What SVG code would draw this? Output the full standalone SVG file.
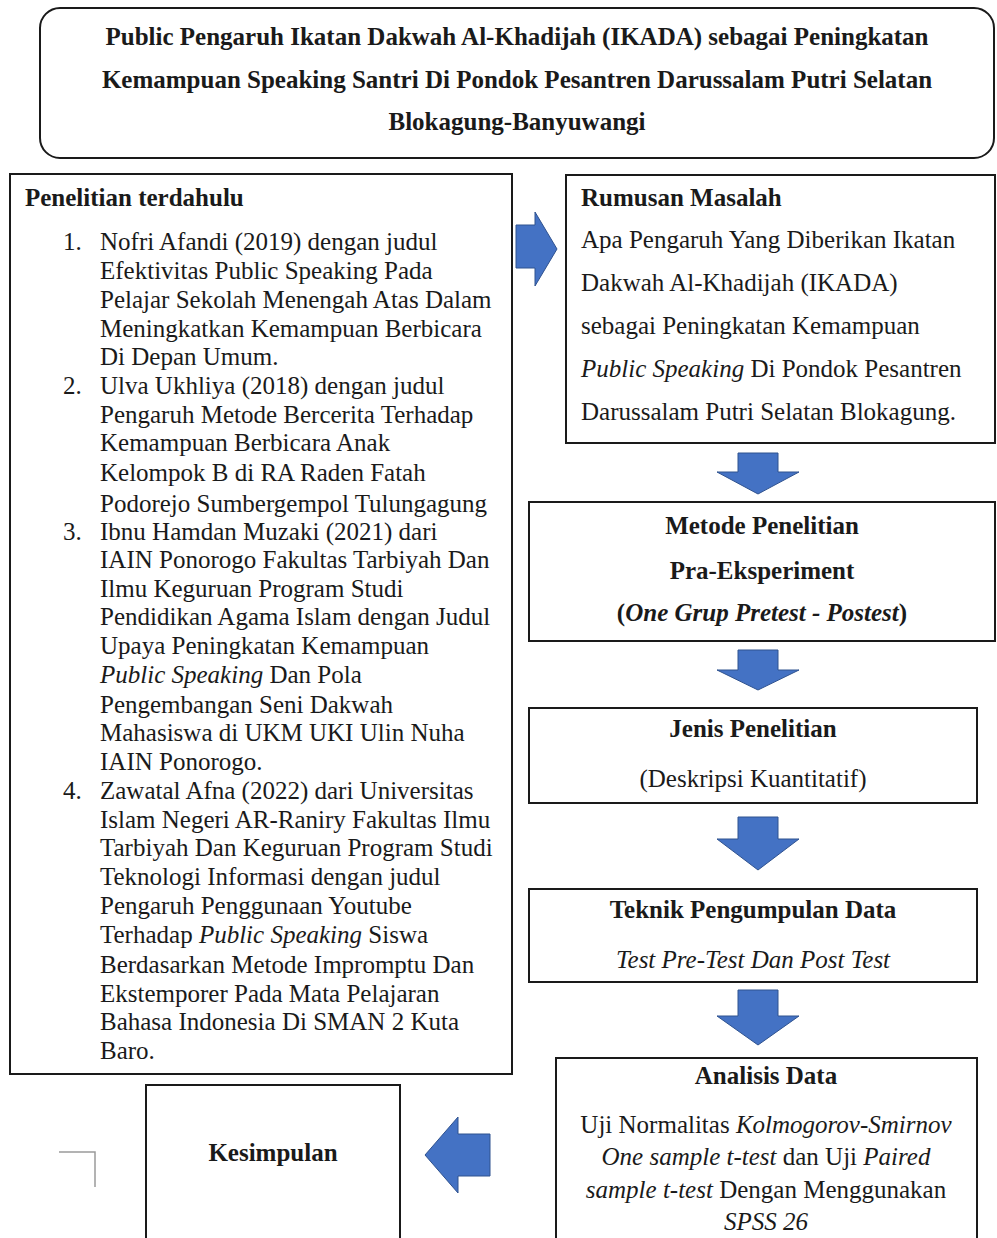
<svg xmlns="http://www.w3.org/2000/svg" width="997" height="1238" viewBox="0 0 997 1238">
<style>
  .box { fill: #ffffff; stroke: #1a1a1a; stroke-width: 2; }
  .t { font-family: "Liberation Serif", "Times New Roman", serif; font-size: 25px; fill: #1a1a1a; }
  .b { font-weight: bold; }
  .c { text-anchor: middle; }
  .i { font-style: italic; }
  .arrow { fill: #4472C4; stroke: #2F528F; stroke-width: 1; }
</style>
<rect x="0" y="0" width="997" height="1238" fill="#ffffff"/>

<g id="title">
  <rect class="box" x="40" y="8" width="954" height="150" rx="20" ry="20"/>
  <text class="t b c" x="517" y="45">Public Pengaruh Ikatan Dakwah Al-Khadijah (IKADA) sebagai Peningkatan</text>
  <text class="t b c" x="517" y="88">Kemampuan Speaking Santri Di Pondok Pesantren Darussalam Putri Selatan</text>
  <text class="t b c" x="517" y="130">Blokagung-Banyuwangi</text>
</g>

<g id="penelitian-terdahulu">
  <rect class="box" x="10" y="174" width="502" height="900"/>
  <text class="t b" x="25" y="206">Penelitian terdahulu</text>
  <text class="t" x="63" y="250">1.</text>
  <text class="t" x="100" y="250">Nofri Afandi (2019) dengan judul</text>
  <text class="t" x="100" y="279">Efektivitas Public Speaking Pada</text>
  <text class="t" x="100" y="308">Pelajar Sekolah Menengah Atas Dalam</text>
  <text class="t" x="100" y="337">Meningkatkan Kemampuan Berbicara</text>
  <text class="t" x="100" y="365">Di Depan Umum.</text>
  <text class="t" x="63" y="394">2.</text>
  <text class="t" x="100" y="394">Ulva Ukhliya (2018) dengan judul</text>
  <text class="t" x="100" y="423">Pengaruh Metode Bercerita Terhadap</text>
  <text class="t" x="100" y="451">Kemampuan Berbicara Anak</text>
  <text class="t" x="100" y="481">Kelompok B di RA Raden Fatah</text>
  <text class="t" x="100" y="512">Podorejo Sumbergempol Tulungagung</text>
  <text class="t" x="63" y="540">3.</text>
  <text class="t" x="100" y="540">Ibnu Hamdan Muzaki (2021) dari</text>
  <text class="t" x="100" y="568">IAIN Ponorogo Fakultas Tarbiyah Dan</text>
  <text class="t" x="100" y="597">Ilmu Keguruan Program Studi</text>
  <text class="t" x="100" y="625">Pendidikan Agama Islam dengan Judul</text>
  <text class="t" x="100" y="654">Upaya Peningkatan Kemampuan</text>
  <text class="t" x="100" y="683"><tspan class="i">Public Speaking</tspan> Dan Pola</text>
  <text class="t" x="100" y="713">Pengembangan Seni Dakwah</text>
  <text class="t" x="100" y="741">Mahasiswa di UKM UKI Ulin Nuha</text>
  <text class="t" x="100" y="770">IAIN Ponorogo.</text>
  <text class="t" x="63" y="799">4.</text>
  <text class="t" x="100" y="799">Zawatal Afna (2022) dari Universitas</text>
  <text class="t" x="100" y="828">Islam Negeri AR-Raniry Fakultas Ilmu</text>
  <text class="t" x="100" y="856">Tarbiyah Dan Keguruan Program Studi</text>
  <text class="t" x="100" y="885">Teknologi Informasi dengan judul</text>
  <text class="t" x="100" y="914">Pengaruh Penggunaan Youtube</text>
  <text class="t" x="100" y="943">Terhadap <tspan class="i">Public Speaking</tspan> Siswa</text>
  <text class="t" x="100" y="973">Berdasarkan Metode Impromptu Dan</text>
  <text class="t" x="100" y="1002">Ekstemporer Pada Mata Pelajaran</text>
  <text class="t" x="100" y="1030">Bahasa Indonesia Di SMAN 2 Kuta</text>
  <text class="t" x="100" y="1059">Baro.</text>
</g>

<g id="rumusan-masalah">
  <rect class="box" x="566" y="175" width="429" height="268"/>
  <text class="t b" x="581" y="206">Rumusan Masalah</text>
  <text class="t" x="581" y="248">Apa Pengaruh Yang Diberikan Ikatan</text>
  <text class="t" x="581" y="291">Dakwah Al-Khadijah (IKADA)</text>
  <text class="t" x="581" y="334">sebagai Peningkatan Kemampuan</text>
  <text class="t" x="581" y="377"><tspan class="i">Public Speaking</tspan> Di Pondok Pesantren</text>
  <text class="t" x="581" y="420">Darussalam Putri Selatan Blokagung.</text>
</g>

<g id="metode-penelitian">
  <rect class="box" x="529" y="502" width="466" height="139"/>
  <text class="t b c" x="762" y="534">Metode Penelitian</text>
  <text class="t b c" x="762" y="579">Pra-Eksperiment</text>
  <text class="t b c" x="762" y="621">(<tspan class="i">One Grup Pretest - Postest</tspan>)</text>
</g>

<g id="jenis-penelitian">
  <rect class="box" x="529" y="708" width="448" height="95"/>
  <text class="t b c" x="753" y="737">Jenis Penelitian</text>
  <text class="t c" x="753" y="787">(Deskripsi Kuantitatif)</text>
</g>

<g id="teknik-pengumpulan-data">
  <rect class="box" x="529" y="889" width="448" height="93"/>
  <text class="t b c" x="753" y="918">Teknik Pengumpulan Data</text>
  <text class="t i c" x="753" y="968">Test Pre-Test Dan Post Test</text>
</g>

<g id="analisis-data">
  <rect class="box" x="556" y="1058" width="421" height="200"/>
  <text class="t b c" x="766" y="1084">Analisis Data</text>
  <text class="t c" x="766" y="1133">Uji Normalitas <tspan class="i">Kolmogorov-Smirnov</tspan></text>
  <text class="t c" x="766" y="1165"><tspan class="i">One sample t-test</tspan> dan Uji <tspan class="i">Paired</tspan></text>
  <text class="t c" x="766" y="1198"><tspan class="i">sample t-test</tspan> Dengan Menggunakan</text>
  <text class="t i c" x="766" y="1230">SPSS 26</text>
</g>

<g id="kesimpulan">
  <rect class="box" x="146" y="1085" width="254" height="180"/>
  <text class="t b c" x="273" y="1161">Kesimpulan</text>
</g>

<g id="connectors">
  <path class="arrow" d="M516,225 H535 V212 L557,249 L535,286 V268 H516 Z"/>
  <path class="arrow" d="M738,453 H778 V472 H799 L758,494 L717,472 H738 Z"/>
  <path class="arrow" d="M738,650 H778 V670 H799 L758,690 L717,670 H738 Z"/>
  <path class="arrow" d="M738,817 H778 V839 H799 L758,870 L717,839 H738 Z"/>
  <path class="arrow" d="M738,990 H778 V1016 H799 L758,1045 L717,1016 H738 Z"/>
  <path class="arrow" d="M490,1134 V1176 H458 V1193 L425,1155 L458,1117 V1134 Z"/>
</g>

<polyline points="59,1152 95,1152 95,1187" fill="none" stroke="#9a9a9a" stroke-width="1.5"/>
</svg>
